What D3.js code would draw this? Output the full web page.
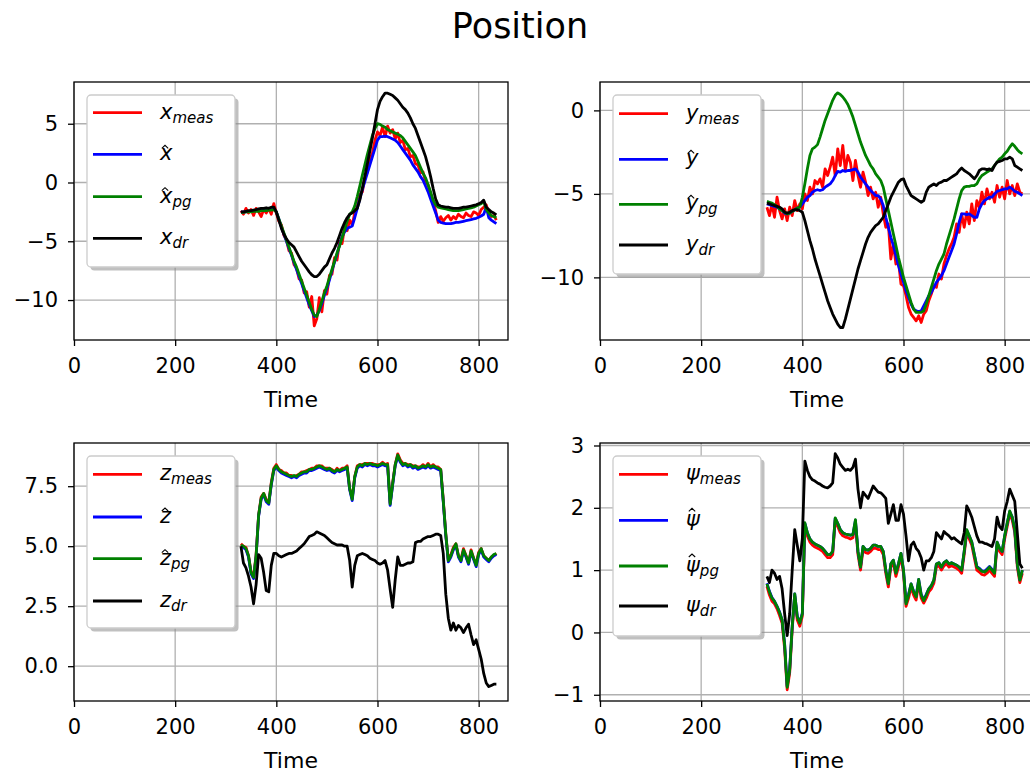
<!DOCTYPE html>
<html>
<head>
<meta charset="utf-8">
<script src="https://cdn.jsdelivr.net/npm/d3@7"></script>
<style>
    body { margin: 0; background: #fff; }
    svg text { font-family: 'DejaVu Sans', sans-serif; fill: #000; }
</style>
</head>
<body>
<div id="chart"></div>
<script>
'use strict';

// Time samples (shared by every series)
const time = [
    330, 335, 340, 345, 350, 355, 360, 365, 370, 375,
    380, 385, 390, 395, 400, 405, 410, 415, 420, 425,
    430, 435, 440, 445, 450, 455, 460, 465, 470, 475,
    480, 485, 490, 495, 500, 505, 510, 515, 520, 525,
    530, 535, 540, 545, 550, 555, 560, 565, 570, 575,
    580, 585, 590, 595, 600, 605, 610, 615, 620, 625,
    630, 635, 640, 645, 650, 655, 660, 665, 670, 675,
    680, 685, 690, 695, 700, 705, 710, 715, 720, 725,
    730, 735, 740, 745, 750, 755, 760, 765, 770, 775,
    780, 785, 790, 795, 800, 805, 810, 815, 820, 825,
    830, 835];

// x
const xMeas = [
    -2.4, -2.7, -2.2, -2.6, -2.3, -2.8, -2.2, -2.5, -2.9, -2.3,
    -2.6, -2.2, -2.7, -1.8, -2.6, -3.3, -3.6, -4.5, -4.9, -5.8,
    -6.0, -7.0, -7.3, -8.2, -8.3, -9.4, -9.3, -10.6, -9.7, -12.2,
    -11.6, -9.8, -11.0, -9.2, -9.5, -7.9, -7.8, -6.4, -6.6, -5.0,
    -5.2, -3.8, -4.1, -3.2, -3.6, -2.6, -2.0, -1.0, -0.8, 0.4,
    0.9, 2.0, 2.5, 3.6, 4.3, 4.0, 4.7, 3.9, 4.8, 4.2,
    4.5, 3.7, 4.2, 3.4, 3.6, 2.8, 2.9, 2.2, 2.3, 1.6,
    1.5, 0.8, 0.9, 0.1, -0.2, -1.0, -1.6, -2.4, -3.4, -2.9,
    -3.3, -3.0, -2.8, -3.2, -2.9, -3.1, -2.7, -2.9, -3.0, -2.6,
    -2.8, -2.9, -2.5, -2.6, -2.8, -2.3, -2.1, -1.9, -2.6, -2.9,
    -2.8, -3.2];
const xHat = [
    -2.55, -2.5, -2.5, -2.45, -2.45, -2.4, -2.4, -2.35, -2.35, -2.3,
    -2.3, -2.3, -2.25, -2.25, -2.5, -3.1, -3.8, -4.4, -5.0, -5.6,
    -6.2, -6.8, -7.4, -8.0, -8.6, -9.2, -9.8, -10.4, -10.9, -11.4,
    -11.3, -10.9, -10.3, -9.6, -9.0, -8.3, -7.5, -6.8, -6.1, -5.3,
    -4.6, -4.2, -3.9, -3.8, -3.7, -3.0, -2.2, -1.4, -0.6, 0.1,
    0.8, 1.5, 2.2, 2.9, 3.6, 3.9, 3.9, 3.95, 3.9, 3.8,
    3.7, 3.6, 3.4, 3.1, 2.8, 2.5, 2.2, 1.9, 1.5, 1.2,
    0.9, 0.5, 0.2, -0.3, -0.8, -1.4, -2.0, -2.6, -3.2, -3.4,
    -3.45, -3.5, -3.5, -3.5, -3.45, -3.4, -3.4, -3.35, -3.3, -3.25,
    -3.2, -3.15, -3.1, -3.05, -2.95, -2.85, -2.7, -2.1, -3.0, -3.2,
    -3.35, -3.5];
const xPg = [
    -2.55, -2.55, -2.5, -2.5, -2.5, -2.45, -2.45, -2.45, -2.4, -2.4,
    -2.4, -2.35, -2.35, -2.3, -2.5, -3.1, -3.7, -4.3, -4.9, -5.5,
    -6.1, -6.7, -7.2, -7.8, -8.4, -9.0, -9.6, -10.2, -10.8, -11.3,
    -11.4, -10.8, -10.1, -9.4, -8.8, -8.1, -7.4, -6.7, -6.0, -5.4,
    -4.7, -4.0, -3.3, -2.7, -2.5, -2.0, -1.2, -0.3, 0.6, 1.5,
    2.4, 3.2, 4.0, 4.6, 5.0, 4.95, 4.8, 4.7, 4.5, 4.4,
    4.3, 4.2, 4.1, 4.0, 3.8, 3.5, 3.2, 2.9, 2.6, 2.3,
    1.8, 1.3, 0.8, 0.4, -0.2, -0.8, -1.5, -1.9, -2.1, -2.15,
    -2.2, -2.25, -2.3, -2.35, -2.4, -2.4, -2.4, -2.35, -2.3, -2.25,
    -2.2, -2.15, -2.1, -2.0, -1.9, -1.8, -1.6, -2.3, -2.6, -2.8,
    -2.9, -3.0];
const xDr = [
    -2.5, -2.5, -2.45, -2.4, -2.4, -2.35, -2.3, -2.25, -2.2, -2.2,
    -2.15, -2.2, -2.1, -2.1, -2.5, -3.2, -3.9, -4.4, -4.8, -5.1,
    -5.3, -5.5, -5.9, -6.3, -6.7, -7.0, -7.3, -7.6, -7.85, -8.0,
    -8.0, -7.8, -7.5, -7.2, -7.0, -6.5, -6.0, -5.6, -5.1, -4.5,
    -3.9, -3.4, -3.0, -2.7, -2.6, -2.4, -2.2, -1.5, -0.5, 0.5,
    1.6, 2.7, 3.8, 5.0, 6.2, 6.9, 7.3, 7.6, 7.6, 7.5,
    7.4, 7.2, 7.0, 6.7, 6.4, 6.2, 5.9, 5.5, 5.0, 4.6,
    4.0, 3.4, 2.8, 2.2, 1.4, 0.5, -0.5, -1.4, -1.9, -2.0,
    -2.05, -2.1, -2.1, -2.15, -2.2, -2.2, -2.2, -2.15, -2.1, -2.1,
    -2.05, -2.0, -1.95, -1.9, -1.8, -1.7, -1.5, -2.1, -2.3, -2.5,
    -2.6, -2.75];

// y
const yMeas = [
    -5.8, -6.3, -5.6, -6.4, -5.2, -6.0, -6.5, -5.9, -6.6, -5.8,
    -6.3, -5.4, -6.0, -5.6, -5.9, -5.0, -5.4, -4.6, -5.0, -4.2,
    -4.4, -4.1, -4.6, -3.5, -3.9, -3.4, -2.8, -3.9, -2.3, -3.3,
    -2.1, -3.6, -2.7, -3.1, -4.2, -3.0, -3.9, -4.6, -3.7, -4.3,
    -5.1, -4.6, -5.3, -4.9, -5.8, -5.2, -6.2, -7.0, -6.8, -8.9,
    -8.0, -9.2, -9.0, -10.4, -10.5, -11.1, -11.8, -12.2, -12.4, -12.6,
    -12.3, -12.7, -12.2, -12.0, -11.4, -11.0, -10.5, -10.6, -9.8, -10.1,
    -9.2, -8.7, -8.3, -8.0, -7.6, -6.8, -7.3, -6.2, -7.0, -6.1,
    -6.8, -5.6, -6.6, -5.4, -5.8, -4.9, -5.6, -4.7, -5.3, -4.9,
    -5.5, -4.5, -5.2, -4.6, -5.3, -4.2, -5.0, -4.5, -5.1, -4.4,
    -4.9, -5.0];
const yHat = [
    -5.6, -5.65, -5.7, -5.75, -5.8, -5.9, -6.0, -6.15, -6.2, -6.15,
    -6.05, -5.95, -5.85, -5.8, -5.6, -5.4, -5.2, -5.1, -4.9, -4.8,
    -4.75, -4.8, -4.75, -4.6, -4.5, -4.4, -4.2, -3.9, -3.65, -3.7,
    -3.6, -3.65, -3.6, -3.6, -3.55, -3.5, -3.7, -4.0, -4.2, -4.4,
    -4.6, -4.8, -4.95, -5.1, -5.1, -5.3, -5.7, -6.4, -7.0, -7.6,
    -8.1, -8.7, -9.3, -9.8, -10.3, -10.8, -11.2, -11.6, -11.9, -12.0,
    -12.05, -12.0, -11.7, -11.4, -11.1, -10.9, -10.6, -10.3, -10.1, -9.9,
    -9.6, -9.2, -8.8, -8.4, -8.0, -7.4, -6.7, -6.2, -6.2, -6.25,
    -6.2, -6.3, -6.4, -6.4, -5.9, -5.6, -5.4, -5.3, -5.2, -5.2,
    -5.0, -4.85, -4.8, -4.75, -4.7, -4.7, -4.6, -4.7, -4.85, -4.9,
    -5.0, -5.1];
const yPg = [
    -5.45, -5.5, -5.55, -5.65, -5.75, -5.9, -6.0, -6.1, -6.2, -6.15,
    -6.05, -5.95, -5.85, -5.8, -5.2, -4.4, -3.5, -2.7, -2.3, -2.2,
    -2.05, -1.6, -1.1, -0.6, -0.2, 0.2, 0.6, 0.9, 1.05, 0.95,
    0.8, 0.6, 0.35, 0.0, -0.4, -0.9, -1.4, -1.9, -2.3, -2.7,
    -3.0, -3.3, -3.5, -3.8, -4.0, -4.2, -4.6, -5.3, -6.0, -6.7,
    -7.4, -8.1, -8.8, -9.4, -10.0, -10.5, -11.0, -11.5, -11.9, -12.1,
    -12.1, -12.1, -12.0, -11.6, -11.1, -10.6, -10.1, -9.6, -9.2, -8.9,
    -8.6, -8.0, -7.5, -7.0, -6.5, -5.9, -5.3, -4.8, -4.6, -4.55,
    -4.55, -4.5, -4.5, -4.4, -4.1, -3.9, -3.8, -3.7, -3.6, -3.5,
    -3.3, -3.1, -2.9, -2.8, -2.6, -2.45, -2.2, -2.0, -2.15, -2.35,
    -2.5, -2.6];
const yDr = [
    -5.55, -5.6, -5.65, -5.7, -5.75, -5.8, -5.9, -6.1, -6.15, -6.1,
    -6.0, -5.95, -5.95, -6.0, -6.1, -6.6, -7.2, -7.8, -8.3, -8.9,
    -9.4, -9.9, -10.4, -10.9, -11.4, -11.8, -12.2, -12.5, -12.8, -13.0,
    -13.0, -12.5, -11.9, -11.3, -10.7, -10.1, -9.5, -9.0, -8.5, -8.0,
    -7.6, -7.3, -7.1, -6.9, -6.8, -6.6, -6.4, -6.0, -5.6, -5.2,
    -4.9, -4.6, -4.3, -4.15, -4.1, -4.5, -4.8, -5.1, -5.2, -5.3,
    -5.4, -5.5, -5.4, -4.9, -4.6, -4.5, -4.4, -4.5, -4.35, -4.3,
    -4.2, -4.2, -4.1, -4.0, -3.9, -3.8, -3.6, -3.45, -3.6, -3.7,
    -3.8, -3.95, -4.1, -3.9, -3.6, -3.5, -3.5, -3.55, -3.5, -3.6,
    -3.3, -3.1, -3.05, -3.0, -2.9, -2.9, -2.8, -2.9, -3.3, -3.4,
    -3.5, -3.6];

// z
const zMeas = [
    5.1, 5.0, 4.95, 4.6, 3.95, 3.7, 4.65, 6.3, 7.05, 7.2,
    6.95, 6.8, 7.65, 8.25, 8.4, 8.2, 8.15, 8.05, 8.05, 7.95,
    7.95, 7.9, 7.95, 8.0, 8.1, 8.1, 8.15, 8.2, 8.25, 8.25,
    8.35, 8.35, 8.35, 8.25, 8.25, 8.25, 8.2, 8.1, 8.25, 8.15,
    8.25, 8.25, 8.35, 7.4, 7.0, 7.9, 8.35, 8.4, 8.4, 8.45,
    8.45, 8.45, 8.45, 8.4, 8.4, 8.4, 8.5, 8.4, 8.45, 6.8,
    7.65, 8.4, 8.85, 8.6, 8.45, 8.45, 8.4, 8.4, 8.35, 8.35,
    8.3, 8.3, 8.4, 8.3, 8.45, 8.3, 8.4, 8.3, 8.3, 8.2,
    6.95, 5.5, 4.4, 4.65, 4.95, 5.1, 4.6, 4.45, 4.9, 4.6,
    4.3, 4.85, 4.5, 4.25, 4.75, 4.9, 4.6, 4.5, 4.4, 4.55,
    4.6, 4.7];
const zHat = [
    5.0, 4.95, 4.85, 4.55, 3.85, 3.65, 4.55, 6.25, 6.95, 7.15,
    6.85, 6.75, 7.55, 8.15, 8.3, 8.15, 8.05, 8.0, 7.95, 7.9,
    7.85, 7.9, 7.85, 7.95, 8.0, 8.05, 8.05, 8.15, 8.15, 8.2,
    8.25, 8.3, 8.25, 8.2, 8.15, 8.2, 8.1, 8.05, 8.15, 8.1,
    8.15, 8.2, 8.25, 7.35, 6.9, 7.85, 8.25, 8.35, 8.3, 8.4,
    8.35, 8.4, 8.35, 8.35, 8.3, 8.35, 8.4, 8.35, 8.35, 6.7,
    7.55, 8.35, 8.75, 8.5, 8.35, 8.4, 8.3, 8.35, 8.25, 8.3,
    8.2, 8.25, 8.3, 8.25, 8.35, 8.25, 8.3, 8.25, 8.2, 8.15,
    6.85, 5.45, 4.35, 4.55, 4.85, 5.05, 4.55, 4.35, 4.8, 4.55,
    4.25, 4.75, 4.45, 4.15, 4.65, 4.85, 4.55, 4.45, 4.35, 4.5,
    4.6, 4.65];
const zPg = [
    5.05, 5.0, 4.9, 4.6, 3.9, 3.7, 4.6, 6.3, 7.0, 7.2,
    6.9, 6.8, 7.6, 8.2, 8.35, 8.2, 8.1, 8.05, 8.0, 7.95,
    7.9, 7.95, 7.9, 8.0, 8.05, 8.1, 8.1, 8.2, 8.2, 8.25,
    8.3, 8.35, 8.3, 8.25, 8.2, 8.25, 8.15, 8.1, 8.2, 8.15,
    8.2, 8.25, 8.3, 7.4, 6.95, 7.9, 8.3, 8.4, 8.35, 8.45,
    8.4, 8.45, 8.4, 8.4, 8.35, 8.4, 8.45, 8.4, 8.4, 6.75,
    7.6, 8.4, 8.8, 8.55, 8.4, 8.45, 8.35, 8.4, 8.3, 8.35,
    8.25, 8.3, 8.35, 8.3, 8.4, 8.3, 8.35, 8.3, 8.25, 8.2,
    6.9, 5.5, 4.4, 4.6, 4.9, 5.1, 4.6, 4.4, 4.85, 4.6,
    4.3, 4.8, 4.5, 4.2, 4.7, 4.9, 4.6, 4.5, 4.4, 4.55,
    4.65, 4.7];
const zDr = [
    5.0, 4.3, 4.1, 3.75, 3.3, 2.6, 3.4, 4.65, 4.5, 3.9,
    3.15, 3.1, 4.2, 4.7, 4.7, 4.6, 4.55, 4.6, 4.65, 4.7,
    4.7, 4.75, 4.8, 4.9, 5.0, 5.1, 5.25, 5.4, 5.45, 5.5,
    5.6, 5.55, 5.5, 5.45, 5.35, 5.25, 5.15, 5.1, 5.05, 5.05,
    5.05, 5.0, 5.0, 4.4, 3.3, 4.2, 4.6, 4.65, 4.7, 4.65,
    4.6, 4.5, 4.45, 4.4, 4.3, 4.25, 4.3, 4.4, 4.0, 3.2,
    2.45, 3.6, 4.55, 4.2, 4.2, 4.25, 4.3, 4.3, 4.35, 5.15,
    5.2, 5.2, 5.3, 5.35, 5.4, 5.4, 5.45, 5.5, 5.5, 5.45,
    4.7, 3.0, 2.0, 1.5, 1.8, 1.5, 1.7, 1.6, 1.4, 1.6,
    1.75, 1.3, 0.9, 1.1, 0.7, 0.3, -0.3, -0.7, -0.85, -0.8,
    -0.75, -0.75];

// psi
const psiMeas = [
    0.74, 0.6, 0.5, 0.46, 0.38, 0.27, 0.15, -0.26, -0.92, -0.65,
    0.05, 0.58, 0.2, 0.1, 0.26, 1.72, 1.55, 1.45, 1.4, 1.37,
    1.35, 1.33, 1.3, 1.25, 1.2, 1.2, 1.25, 1.8, 1.7, 1.6,
    1.55, 1.53, 1.52, 1.5, 1.52, 1.76, 1.25, 1.0, 1.33, 1.28,
    1.27, 1.3, 1.35, 1.35, 1.33, 1.33, 1.25, 0.95, 0.73, 1.05,
    1.11, 0.9, 1.05, 1.22, 0.95, 0.42, 0.55, 0.73, 0.6, 0.52,
    0.8, 0.55, 0.47, 0.55, 0.65, 0.7, 0.79, 1.05, 1.07, 1.0,
    1.07, 1.1, 1.05, 1.07, 1.05, 1.03, 1.0, 0.95, 1.25, 1.6,
    1.5, 1.4, 1.2, 1.0, 0.97, 0.93, 0.92, 0.95, 1.0, 0.95,
    0.9, 1.4, 1.3, 1.25, 1.5, 1.7, 1.9, 1.8, 1.6, 1.05,
    0.8, 0.95];
const psiHat = [
    0.79, 0.66, 0.56, 0.5, 0.42, 0.33, 0.2, -0.18, -0.86, -0.58,
    0.1, 0.62, 0.26, 0.16, 0.31, 1.75, 1.6, 1.5, 1.45, 1.42,
    1.4, 1.38, 1.35, 1.3, 1.25, 1.25, 1.3, 1.83, 1.75, 1.65,
    1.6, 1.58, 1.57, 1.56, 1.57, 1.8, 1.3, 1.05, 1.38, 1.33,
    1.32, 1.35, 1.4, 1.4, 1.38, 1.38, 1.3, 1.0, 0.79, 1.1,
    1.16, 0.96, 1.1, 1.27, 1.0, 0.48, 0.61, 0.78, 0.66, 0.58,
    0.85, 0.61, 0.52, 0.61, 0.7, 0.75, 0.84, 1.1, 1.12, 1.05,
    1.12, 1.15, 1.1, 1.12, 1.1, 1.08, 1.05, 1.0, 1.3, 1.64,
    1.55, 1.45, 1.25, 1.06, 1.03, 0.99, 0.98, 1.02, 1.06, 1.01,
    0.96, 1.45, 1.35, 1.3, 1.55, 1.75, 1.94, 1.85, 1.65, 1.1,
    0.85, 1.0];
const psiPg = [
    0.78, 0.65, 0.55, 0.5, 0.42, 0.32, 0.2, -0.2, -0.88, -0.6,
    0.1, 0.62, 0.25, 0.15, 0.3, 1.76, 1.6, 1.5, 1.45, 1.42,
    1.4, 1.38, 1.35, 1.3, 1.25, 1.25, 1.3, 1.84, 1.75, 1.65,
    1.6, 1.58, 1.57, 1.56, 1.57, 1.81, 1.3, 1.05, 1.38, 1.33,
    1.32, 1.35, 1.4, 1.4, 1.38, 1.38, 1.3, 1.0, 0.78, 1.1,
    1.16, 0.95, 1.1, 1.27, 1.0, 0.46, 0.6, 0.78, 0.65, 0.57,
    0.85, 0.6, 0.51, 0.6, 0.7, 0.75, 0.84, 1.1, 1.12, 1.05,
    1.12, 1.15, 1.1, 1.12, 1.1, 1.08, 1.05, 1.0, 1.3, 1.65,
    1.55, 1.45, 1.25, 1.05, 1.02, 0.98, 0.97, 1.0, 1.05, 1.0,
    0.95, 1.45, 1.35, 1.3, 1.55, 1.75, 1.95, 1.85, 1.65, 1.1,
    0.84, 1.0];
const psiDr = [
    0.9, 0.8, 1.0, 0.95, 0.85, 0.9, 0.7, 0.3, -0.05, 0.3,
    1.0, 1.65, 1.4, 1.15, 1.5, 2.75, 2.6, 2.5, 2.45, 2.43,
    2.4, 2.38, 2.35, 2.33, 2.32, 2.35, 2.4, 2.87, 2.8, 2.7,
    2.65, 2.6, 2.62, 2.6, 2.65, 2.78, 2.3, 2.0, 2.25, 2.2,
    2.15, 2.25, 2.35, 2.3, 2.25, 2.24, 2.2, 2.15, 1.75, 1.9,
    2.05, 1.8, 1.8, 2.05, 1.9, 1.55, 1.15, 1.4, 1.45, 1.35,
    1.3, 1.2, 1.0, 1.15, 1.15, 1.2, 1.3, 1.6, 1.55, 1.5,
    1.62, 1.58, 1.55, 1.5, 1.52, 1.48, 1.45, 1.42, 1.6, 2.03,
    1.95, 1.85, 1.7, 1.55, 1.45, 1.45, 1.43, 1.42, 1.4, 1.38,
    1.5, 1.85, 1.7, 1.65, 1.95, 2.1, 2.3, 2.2, 2.1, 1.6,
    1.1, 1.03];

// Ticks
const timeTicks = [0, 200, 400, 600, 800];
const xValTicks = [-10, -5, 0, 5];
const yValTicks = [-10, -5, 0];
const zValTicks = [0, 2.5, 5, 7.5];
const psiValTicks = [-1, 0, 1, 2, 3];

// Legend subscripts and series colours
const legendSubs = ['meas', '', 'pg', 'dr'];
const legendHats = [false, true, true, false];
const seriesColors = ['#ff0000', '#0000ff', '#008000', '#000000'];

/* `````````````````````````````\
    Class: Panel                |
 ``````````````````````````````*/
class Panel {

    constructor(_svg, _cfg) {
        this.svg = _svg;
        this.cfg = _cfg;
        this.initVis();
    }

    initVis() {
        const vis = this;
        const c = vis.cfg;

        // Config size
        vis.w = 434;
        vis.h = 258;

        // Append g (container)
        vis.g = vis.svg.append('g')
            .attr('transform', `translate(${c.left},${c.top})`);

        // Clip
        vis.g.append('clipPath')
            .attr('id', `clip-${c.id}`)
            .append('rect')
            .attr('width', vis.w)
            .attr('height', vis.h);

        // Scales
        vis.xScale = d3.scaleLinear().domain([0, 858]).range([0, vis.w]);
        vis.yScale = d3.scaleLinear().domain(c.yDomain).range([vis.h, 0]);

        vis.updateVis();
    }

    updateVis() {
        const vis = this;
        const c = vis.cfg;

        // Grid
        const grid = vis.g.append('g')
            .attr('stroke', '#b0b0b0')
            .attr('stroke-width', 1.3);
        grid.selectAll('.vg')
            .data(timeTicks)
            .join('line')
            .attr('x1', d => vis.xScale(d))
            .attr('x2', d => vis.xScale(d))
            .attr('y1', 0)
            .attr('y2', vis.h);
        grid.selectAll('.hg')
            .data(c.yTicks)
            .join('line')
            .attr('x1', 0)
            .attr('x2', vis.w)
            .attr('y1', d => vis.yScale(d))
            .attr('y2', d => vis.yScale(d));

        // Lines
        const line = d3.line()
            .x((d, i) => vis.xScale(time[i]))
            .y(d => vis.yScale(d));
        vis.g.append('g')
            .attr('clip-path', `url(#clip-${c.id})`)
            .selectAll('path')
            .data(c.series)
            .join('path')
            .attr('d', d => line(d))
            .attr('fill', 'none')
            .attr('stroke', (d, i) => seriesColors[i])
            .attr('stroke-width', 2.8)
            .attr('stroke-linejoin', 'round');

        // Frame
        vis.g.append('rect')
            .attr('width', vis.w)
            .attr('height', vis.h)
            .attr('fill', 'none')
            .attr('stroke', '#000')
            .attr('stroke-width', 1.3);

        // Axes
        const xAxis = vis.g.append('g')
            .attr('transform', `translate(0,${vis.h})`)
            .call(d3.axisBottom(vis.xScale).tickValues(timeTicks)
                .tickSize(6).tickSizeOuter(0).tickPadding(12));
        const yAxis = vis.g.append('g')
            .call(d3.axisLeft(vis.yScale).tickValues(c.yTicks)
                .tickFormat(c.fmt).tickSize(6).tickSizeOuter(0).tickPadding(10));
        [xAxis, yAxis].forEach(a => {
            a.select('.domain').remove();
            a.selectAll('line').attr('stroke', '#000').attr('stroke-width', 1.3);
            a.selectAll('text')
                .attr('font-size', 21)
                .attr('font-family', 'DejaVu Sans')
                .attr('fill', '#000');
        });

        // Axis title
        vis.g.append('text')
            .attr('x', vis.w / 2)
            .attr('y', 325)
            .attr('text-anchor', 'middle')
            .attr('font-size', 22)
            .text('Time');

        // Legend
        const lg = vis.g.append('g')
            .attr('transform', 'translate(13,13)');
        lg.append('rect')
            .attr('x', 3.5)
            .attr('y', 3.5)
            .attr('width', 148)
            .attr('height', c.legendH)
            .attr('rx', 4)
            .attr('fill', '#8c8c8c')
            .attr('opacity', 0.55);
        lg.append('rect')
            .attr('width', 148)
            .attr('height', c.legendH)
            .attr('rx', 4)
            .attr('fill', '#fff')
            .attr('stroke', '#cccccc')
            .attr('stroke-width', 1.3);

        c.rowY.forEach((ry, i) => {
            // Sample line
            lg.append('line')
                .attr('x1', 6)
                .attr('x2', 55)
                .attr('y1', ry)
                .attr('y2', ry)
                .attr('stroke', seriesColors[i])
                .attr('stroke-width', 2.8);

            // Label
            const base = ry + 6;
            const t = lg.append('text')
                .attr('x', 73)
                .attr('y', base)
                .attr('font-style', 'italic')
                .attr('font-size', 21);
            t.append('tspan').text(c.sym);
            if (legendSubs[i]) {
                t.append('tspan')
                    .attr('dy', 4)
                    .attr('font-size', 15)
                    .text(legendSubs[i]);
            }

            // Hat
            if (legendHats[i]) {
                const hx = 73 + c.hatDx;
                const hy = base + c.hatDy;
                lg.append('path')
                    .attr('d', `M${hx - 3.2},${hy + 3} L${hx},${hy} L${hx + 3.2},${hy + 3}`)
                    .attr('fill', 'none')
                    .attr('stroke', '#000')
                    .attr('stroke-width', 1.1);
            }
        });
    }
}

// Append svg
const svg = d3.select('#chart')
    .append('svg')
    .attr('width', 1030)
    .attr('height', 773);

// Title
svg.append('text')
    .attr('x', 520)
    .attr('y', 37.5)
    .attr('text-anchor', 'middle')
    .attr('font-size', 35)
    .text('Position');

const intFmt = d3.format('d');
const panels = [
    {id: 'x', left: 74, top: 82, yDomain: [-13.4, 8.55], yTicks: xValTicks, fmt: intFmt,
        series: [xMeas, xHat, xPg, xDr], sym: 'x', legendH: 172, rowY: [17.7, 59.3, 101.7, 143.3], hatDx: 5, hatDy: -15},
    {id: 'y', left: 600, top: 82, yDomain: [-13.75, 1.7], yTicks: yValTicks, fmt: intFmt,
        series: [yMeas, yHat, yPg, yDr], sym: 'y', legendH: 179, rowY: [18.7, 64.3, 109.3, 150], hatDx: 5, hatDy: -15},
    {id: 'z', left: 74, top: 443, yDomain: [-1.45, 9.3], yTicks: zValTicks, fmt: d3.format('.1f'),
        series: [zMeas, zHat, zPg, zDr], sym: 'z', legendH: 172, rowY: [18.3, 61, 102.7, 145], hatDx: 5, hatDy: -15},
    {id: 'psi', left: 600, top: 443, yDomain: [-1.1, 3.04], yTicks: psiValTicks, fmt: intFmt,
        series: [psiMeas, psiHat, psiPg, psiDr], sym: 'ψ', legendH: 180, rowY: [18.3, 64.3, 110, 150], hatDx: 6, hatDy: -18}
];
panels.forEach(p => new Panel(svg, p));
</script>
</body>
</html>
